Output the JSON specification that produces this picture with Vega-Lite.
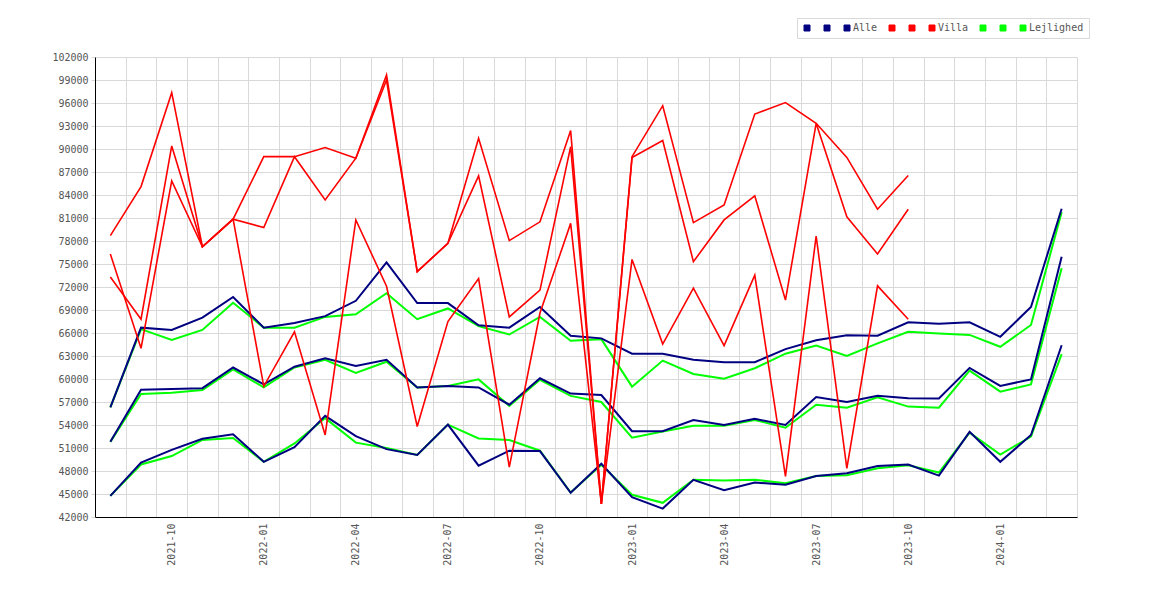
{
  "$schema": "https://vega.github.io/schema/vega-lite/v6.json",
  "width": 982,
  "height": 460,
  "autosize": "none",
  "padding": {"left": 95, "top": 57, "right": 93, "bottom": 83},
  "background": "white",
  "data": {
    "values": [
      {"m": "2021-08", "s": "L1", "v": 44750}, {"m": "2021-09", "s": "L1", "v": 48850}, {"m": "2021-10", "s": "L1", "v": 49950}, {"m": "2021-11", "s": "L1", "v": 52050},
      {"m": "2021-12", "s": "L1", "v": 52300}, {"m": "2022-01", "s": "L1", "v": 49200}, {"m": "2022-02", "s": "L1", "v": 51600}, {"m": "2022-03", "s": "L1", "v": 54900},
      {"m": "2022-04", "s": "L1", "v": 51700}, {"m": "2022-05", "s": "L1", "v": 51000}, {"m": "2022-06", "s": "L1", "v": 50100}, {"m": "2022-07", "s": "L1", "v": 54050},
      {"m": "2022-08", "s": "L1", "v": 52250}, {"m": "2022-09", "s": "L1", "v": 52050}, {"m": "2022-10", "s": "L1", "v": 50650}, {"m": "2022-11", "s": "L1", "v": 45200},
      {"m": "2022-12", "s": "L1", "v": 48800}, {"m": "2023-01", "s": "L1", "v": 44900}, {"m": "2023-02", "s": "L1", "v": 43850}, {"m": "2023-03", "s": "L1", "v": 46850},
      {"m": "2023-04", "s": "L1", "v": 46750}, {"m": "2023-05", "s": "L1", "v": 46850}, {"m": "2023-06", "s": "L1", "v": 46400}, {"m": "2023-07", "s": "L1", "v": 47350},
      {"m": "2023-08", "s": "L1", "v": 47450}, {"m": "2023-09", "s": "L1", "v": 48350}, {"m": "2023-10", "s": "L1", "v": 48750}, {"m": "2023-11", "s": "L1", "v": 47800},
      {"m": "2023-12", "s": "L1", "v": 53000}, {"m": "2024-01", "s": "L1", "v": 50150}, {"m": "2024-02", "s": "L1", "v": 52500}, {"m": "2024-03", "s": "L1", "v": 63250},

      {"m": "2021-08", "s": "L2", "v": 51800}, {"m": "2021-09", "s": "L2", "v": 58050}, {"m": "2021-10", "s": "L2", "v": 58200}, {"m": "2021-11", "s": "L2", "v": 58550},
      {"m": "2021-12", "s": "L2", "v": 61250}, {"m": "2022-01", "s": "L2", "v": 58900}, {"m": "2022-02", "s": "L2", "v": 61500}, {"m": "2022-03", "s": "L2", "v": 62500},
      {"m": "2022-04", "s": "L2", "v": 60800}, {"m": "2022-05", "s": "L2", "v": 62250}, {"m": "2022-06", "s": "L2", "v": 58900}, {"m": "2022-07", "s": "L2", "v": 59100},
      {"m": "2022-08", "s": "L2", "v": 59950}, {"m": "2022-09", "s": "L2", "v": 56500}, {"m": "2022-10", "s": "L2", "v": 59900}, {"m": "2022-11", "s": "L2", "v": 57800},
      {"m": "2022-12", "s": "L2", "v": 57000}, {"m": "2023-01", "s": "L2", "v": 52350}, {"m": "2023-02", "s": "L2", "v": 53150}, {"m": "2023-03", "s": "L2", "v": 53900},
      {"m": "2023-04", "s": "L2", "v": 53900}, {"m": "2023-05", "s": "L2", "v": 54650}, {"m": "2023-06", "s": "L2", "v": 53650}, {"m": "2023-07", "s": "L2", "v": 56650},
      {"m": "2023-08", "s": "L2", "v": 56250}, {"m": "2023-09", "s": "L2", "v": 57600}, {"m": "2023-10", "s": "L2", "v": 56400}, {"m": "2023-11", "s": "L2", "v": 56250},
      {"m": "2023-12", "s": "L2", "v": 61100}, {"m": "2024-01", "s": "L2", "v": 58350}, {"m": "2024-02", "s": "L2", "v": 59300}, {"m": "2024-03", "s": "L2", "v": 74450},

      {"m": "2021-08", "s": "L3", "v": 56300}, {"m": "2021-09", "s": "L3", "v": 66500}, {"m": "2021-10", "s": "L3", "v": 65100}, {"m": "2021-11", "s": "L3", "v": 66400},
      {"m": "2021-12", "s": "L3", "v": 69950}, {"m": "2022-01", "s": "L3", "v": 66700}, {"m": "2022-02", "s": "L3", "v": 66700}, {"m": "2022-03", "s": "L3", "v": 68100},
      {"m": "2022-04", "s": "L3", "v": 68450}, {"m": "2022-05", "s": "L3", "v": 71200}, {"m": "2022-06", "s": "L3", "v": 67800}, {"m": "2022-07", "s": "L3", "v": 69200},
      {"m": "2022-08", "s": "L3", "v": 66900}, {"m": "2022-09", "s": "L3", "v": 65800}, {"m": "2022-10", "s": "L3", "v": 68100}, {"m": "2022-11", "s": "L3", "v": 65000},
      {"m": "2022-12", "s": "L3", "v": 65200}, {"m": "2023-01", "s": "L3", "v": 59000}, {"m": "2023-02", "s": "L3", "v": 62400}, {"m": "2023-03", "s": "L3", "v": 60650},
      {"m": "2023-04", "s": "L3", "v": 60050}, {"m": "2023-05", "s": "L3", "v": 61400}, {"m": "2023-06", "s": "L3", "v": 63300}, {"m": "2023-07", "s": "L3", "v": 64350},
      {"m": "2023-08", "s": "L3", "v": 63000}, {"m": "2023-09", "s": "L3", "v": 64650}, {"m": "2023-10", "s": "L3", "v": 66150}, {"m": "2023-11", "s": "L3", "v": 65950},
      {"m": "2023-12", "s": "L3", "v": 65750}, {"m": "2024-01", "s": "L3", "v": 64200}, {"m": "2024-02", "s": "L3", "v": 67050}, {"m": "2024-03", "s": "L3", "v": 81750},

      {"m": "2021-08", "s": "A1", "v": 44750}, {"m": "2021-09", "s": "A1", "v": 49100}, {"m": "2021-10", "s": "A1", "v": 50750}, {"m": "2021-11", "s": "A1", "v": 52200},
      {"m": "2021-12", "s": "A1", "v": 52800}, {"m": "2022-01", "s": "A1", "v": 49200}, {"m": "2022-02", "s": "A1", "v": 51100}, {"m": "2022-03", "s": "A1", "v": 55200},
      {"m": "2022-04", "s": "A1", "v": 52550}, {"m": "2022-05", "s": "A1", "v": 50850}, {"m": "2022-06", "s": "A1", "v": 50100}, {"m": "2022-07", "s": "A1", "v": 54050},
      {"m": "2022-08", "s": "A1", "v": 48700}, {"m": "2022-09", "s": "A1", "v": 50650}, {"m": "2022-10", "s": "A1", "v": 50600}, {"m": "2022-11", "s": "A1", "v": 45150},
      {"m": "2022-12", "s": "A1", "v": 48950}, {"m": "2023-01", "s": "A1", "v": 44600}, {"m": "2023-02", "s": "A1", "v": 43100}, {"m": "2023-03", "s": "A1", "v": 46850},
      {"m": "2023-04", "s": "A1", "v": 45500}, {"m": "2023-05", "s": "A1", "v": 46500}, {"m": "2023-06", "s": "A1", "v": 46200}, {"m": "2023-07", "s": "A1", "v": 47350},
      {"m": "2023-08", "s": "A1", "v": 47700}, {"m": "2023-09", "s": "A1", "v": 48650}, {"m": "2023-10", "s": "A1", "v": 48850}, {"m": "2023-11", "s": "A1", "v": 47400},
      {"m": "2023-12", "s": "A1", "v": 53100}, {"m": "2024-01", "s": "A1", "v": 49200}, {"m": "2024-02", "s": "A1", "v": 52700}, {"m": "2024-03", "s": "A1", "v": 64400},

      {"m": "2021-08", "s": "A2", "v": 51800}, {"m": "2021-09", "s": "A2", "v": 58600}, {"m": "2021-10", "s": "A2", "v": 58700}, {"m": "2021-11", "s": "A2", "v": 58800},
      {"m": "2021-12", "s": "A2", "v": 61500}, {"m": "2022-01", "s": "A2", "v": 59300}, {"m": "2022-02", "s": "A2", "v": 61600}, {"m": "2022-03", "s": "A2", "v": 62700},
      {"m": "2022-04", "s": "A2", "v": 61700}, {"m": "2022-05", "s": "A2", "v": 62500}, {"m": "2022-06", "s": "A2", "v": 58900}, {"m": "2022-07", "s": "A2", "v": 59100},
      {"m": "2022-08", "s": "A2", "v": 58900}, {"m": "2022-09", "s": "A2", "v": 56650}, {"m": "2022-10", "s": "A2", "v": 60100}, {"m": "2022-11", "s": "A2", "v": 58100},
      {"m": "2022-12", "s": "A2", "v": 57900}, {"m": "2023-01", "s": "A2", "v": 53200}, {"m": "2023-02", "s": "A2", "v": 53200}, {"m": "2023-03", "s": "A2", "v": 54650},
      {"m": "2023-04", "s": "A2", "v": 54000}, {"m": "2023-05", "s": "A2", "v": 54800}, {"m": "2023-06", "s": "A2", "v": 54000}, {"m": "2023-07", "s": "A2", "v": 57650},
      {"m": "2023-08", "s": "A2", "v": 57000}, {"m": "2023-09", "s": "A2", "v": 57800}, {"m": "2023-10", "s": "A2", "v": 57500}, {"m": "2023-11", "s": "A2", "v": 57450},
      {"m": "2023-12", "s": "A2", "v": 61450}, {"m": "2024-01", "s": "A2", "v": 59100}, {"m": "2024-02", "s": "A2", "v": 59950}, {"m": "2024-03", "s": "A2", "v": 75950},

      {"m": "2021-08", "s": "A3", "v": 56300}, {"m": "2021-09", "s": "A3", "v": 66700}, {"m": "2021-10", "s": "A3", "v": 66400}, {"m": "2021-11", "s": "A3", "v": 68000},
      {"m": "2021-12", "s": "A3", "v": 70700}, {"m": "2022-01", "s": "A3", "v": 66700}, {"m": "2022-02", "s": "A3", "v": 67300}, {"m": "2022-03", "s": "A3", "v": 68200},
      {"m": "2022-04", "s": "A3", "v": 70200}, {"m": "2022-05", "s": "A3", "v": 75200}, {"m": "2022-06", "s": "A3", "v": 69900}, {"m": "2022-07", "s": "A3", "v": 69900},
      {"m": "2022-08", "s": "A3", "v": 67000}, {"m": "2022-09", "s": "A3", "v": 66700}, {"m": "2022-10", "s": "A3", "v": 69400}, {"m": "2022-11", "s": "A3", "v": 65650},
      {"m": "2022-12", "s": "A3", "v": 65300}, {"m": "2023-01", "s": "A3", "v": 63300}, {"m": "2023-02", "s": "A3", "v": 63300}, {"m": "2023-03", "s": "A3", "v": 62500},
      {"m": "2023-04", "s": "A3", "v": 62200}, {"m": "2023-05", "s": "A3", "v": 62200}, {"m": "2023-06", "s": "A3", "v": 63900}, {"m": "2023-07", "s": "A3", "v": 65050},
      {"m": "2023-08", "s": "A3", "v": 65700}, {"m": "2023-09", "s": "A3", "v": 65650}, {"m": "2023-10", "s": "A3", "v": 67400}, {"m": "2023-11", "s": "A3", "v": 67200},
      {"m": "2023-12", "s": "A3", "v": 67400}, {"m": "2024-01", "s": "A3", "v": 65500}, {"m": "2024-02", "s": "A3", "v": 69400}, {"m": "2024-03", "s": "A3", "v": 82200},

      {"m": "2021-08", "s": "V1", "v": 78700}, {"m": "2021-09", "s": "V1", "v": 85100}, {"m": "2021-10", "s": "V1", "v": 97350}, {"m": "2021-11", "s": "V1", "v": 77250},
      {"m": "2021-12", "s": "V1", "v": 80850}, {"m": "2022-01", "s": "V1", "v": 89000}, {"m": "2022-02", "s": "V1", "v": 89000}, {"m": "2022-03", "s": "V1", "v": 90200},
      {"m": "2022-04", "s": "V1", "v": 88800}, {"m": "2022-05", "s": "V1", "v": 99650}, {"m": "2022-06", "s": "V1", "v": 74000}, {"m": "2022-07", "s": "V1", "v": 77700},
      {"m": "2022-08", "s": "V1", "v": 91400}, {"m": "2022-09", "s": "V1", "v": 78050}, {"m": "2022-10", "s": "V1", "v": 80500}, {"m": "2022-11", "s": "V1", "v": 92400},
      {"m": "2022-12", "s": "V1", "v": 43700}, {"m": "2023-01", "s": "V1", "v": 89000}, {"m": "2023-02", "s": "V1", "v": 95650}, {"m": "2023-03", "s": "V1", "v": 80400},
      {"m": "2023-04", "s": "V1", "v": 82700}, {"m": "2023-05", "s": "V1", "v": 94550}, {"m": "2023-06", "s": "V1", "v": 96050}, {"m": "2023-07", "s": "V1", "v": 93350},
      {"m": "2023-08", "s": "V1", "v": 88900}, {"m": "2023-09", "s": "V1", "v": 82150}, {"m": "2023-10", "s": "V1", "v": 86550},

      {"m": "2021-08", "s": "V2", "v": 73300}, {"m": "2021-09", "s": "V2", "v": 67800}, {"m": "2021-10", "s": "V2", "v": 90400}, {"m": "2021-11", "s": "V2", "v": 77250},
      {"m": "2021-12", "s": "V2", "v": 80850}, {"m": "2022-01", "s": "V2", "v": 79750}, {"m": "2022-02", "s": "V2", "v": 89000}, {"m": "2022-03", "s": "V2", "v": 83350},
      {"m": "2022-04", "s": "V2", "v": 88800}, {"m": "2022-05", "s": "V2", "v": 99000}, {"m": "2022-06", "s": "V2", "v": 74000}, {"m": "2022-07", "s": "V2", "v": 77700},
      {"m": "2022-08", "s": "V2", "v": 86500}, {"m": "2022-09", "s": "V2", "v": 68100}, {"m": "2022-10", "s": "V2", "v": 71600}, {"m": "2022-11", "s": "V2", "v": 90300},
      {"m": "2022-12", "s": "V2", "v": 43700}, {"m": "2023-01", "s": "V2", "v": 88900}, {"m": "2023-02", "s": "V2", "v": 91100}, {"m": "2023-03", "s": "V2", "v": 75300},
      {"m": "2023-04", "s": "V2", "v": 80750}, {"m": "2023-05", "s": "V2", "v": 83900}, {"m": "2023-06", "s": "V2", "v": 70300}, {"m": "2023-07", "s": "V2", "v": 93350},
      {"m": "2023-08", "s": "V2", "v": 81150}, {"m": "2023-09", "s": "V2", "v": 76300}, {"m": "2023-10", "s": "V2", "v": 82150},

      {"m": "2021-08", "s": "V3", "v": 76300}, {"m": "2021-09", "s": "V3", "v": 64000}, {"m": "2021-10", "s": "V3", "v": 85850}, {"m": "2021-11", "s": "V3", "v": 77250},
      {"m": "2021-12", "s": "V3", "v": 80850}, {"m": "2022-01", "s": "V3", "v": 59050}, {"m": "2022-02", "s": "V3", "v": 66150}, {"m": "2022-03", "s": "V3", "v": 52700},
      {"m": "2022-04", "s": "V3", "v": 80750}, {"m": "2022-05", "s": "V3", "v": 72100}, {"m": "2022-06", "s": "V3", "v": 53800}, {"m": "2022-07", "s": "V3", "v": 67500},
      {"m": "2022-08", "s": "V3", "v": 73100}, {"m": "2022-09", "s": "V3", "v": 48500}, {"m": "2022-10", "s": "V3", "v": 68600}, {"m": "2022-11", "s": "V3", "v": 80300},
      {"m": "2022-12", "s": "V3", "v": 43700}, {"m": "2023-01", "s": "V3", "v": 75600}, {"m": "2023-02", "s": "V3", "v": 64550}, {"m": "2023-03", "s": "V3", "v": 71850},
      {"m": "2023-04", "s": "V3", "v": 64350}, {"m": "2023-05", "s": "V3", "v": 73550}, {"m": "2023-06", "s": "V3", "v": 47300}, {"m": "2023-07", "s": "V3", "v": 78650},
      {"m": "2023-08", "s": "V3", "v": 48350}, {"m": "2023-09", "s": "V3", "v": 72150}, {"m": "2023-10", "s": "V3", "v": 67800}
    ]
  },
  "encoding": {
    "x": {
      "field": "m",
      "type": "ordinal",
      "scale": {"type": "point", "padding": 0.5},
      "axis": {
        "title": null,
        "ticks": false,
        "grid": true,
        "gridColor": "#d9d9d9",
        "tickOffset": 15.34,
        "labelOffset": -15.34,
        "domainColor": "#000000",
        "labelAngle": 270,
        "labelFont": "DejaVu Sans Mono",
        "labelFontSize": 10,
        "labelColor": "#555555",
        "labelPadding": 6,
        "labelOverlap": false,
        "labelExpr": "indexof(['01', '04', '07', '10'], slice(datum.value, 5)) >= 0 ? datum.value : ''"
      }
    },
    "y": {
      "field": "v",
      "type": "quantitative",
      "scale": {"domain": [42000, 102000], "nice": false, "zero": false},
      "axis": {
        "title": null,
        "values": [42000, 45000, 48000, 51000, 54000, 57000, 60000, 63000, 66000, 69000, 72000, 75000, 78000, 81000, 84000, 87000, 90000, 93000, 96000, 99000, 102000],
        "format": "d",
        "grid": true,
        "gridColor": "#d9d9d9",
        "tickColor": "#d9d9d9",
        "tickSize": 4,
        "domainColor": "#000000",
        "labelFont": "DejaVu Sans Mono",
        "labelFontSize": 10,
        "labelColor": "#555555",
        "labelPadding": 3
      }
    },
    "color": {
      "field": "s",
      "type": "nominal",
      "scale": {
        "domain": ["A1", "A2", "A3", "V1", "V2", "V3", "L1", "L2", "L3"],
        "range": ["#000080", "#000080", "#000080", "#ff0000", "#ff0000", "#ff0000", "#00ff00", "#00ff00", "#00ff00"]
      },
      "legend": {
        "orient": "none",
        "legendX": 702,
        "legendY": -39,
        "direction": "horizontal",
        "title": null,
        "symbolType": "square",
        "symbolSize": 36,
        "symbolStrokeWidth": 1,
        "labelFont": "DejaVu Sans Mono",
        "labelFontSize": 10,
        "labelColor": "#555555",
        "labelOffset": 1,
        "columnPadding": 9,
        "padding": 5,
        "strokeColor": "#d9d9d9",
        "fillColor": "#ffffff",
        "labelExpr": "datum.label == 'A3' ? 'Alle' : datum.label == 'V3' ? 'Villa' : datum.label == 'L3' ? 'Lejlighed' : ''",
        "encode": {
          "symbols": {
            "update": {
              "fill": {"scale": "color", "field": "value"},
              "fillOpacity": {"value": 1},
              "stroke": {"value": "#555555"}
            }
          }
        }
      }
    }
  },
  "layer": [
    {
      "transform": [{"filter": {"field": "s", "oneOf": ["L1", "L2", "L3"]}}],
      "mark": {"type": "line", "strokeWidth": 2}
    },
    {
      "transform": [{"filter": {"field": "s", "oneOf": ["A1", "A2", "A3"]}}],
      "mark": {"type": "line", "strokeWidth": 2}
    },
    {
      "transform": [{"filter": {"field": "s", "oneOf": ["V1", "V2", "V3"]}}],
      "mark": {"type": "line", "strokeWidth": 1.6}
    }
  ],
  "config": {
    "view": {"stroke": null}
  }
}
